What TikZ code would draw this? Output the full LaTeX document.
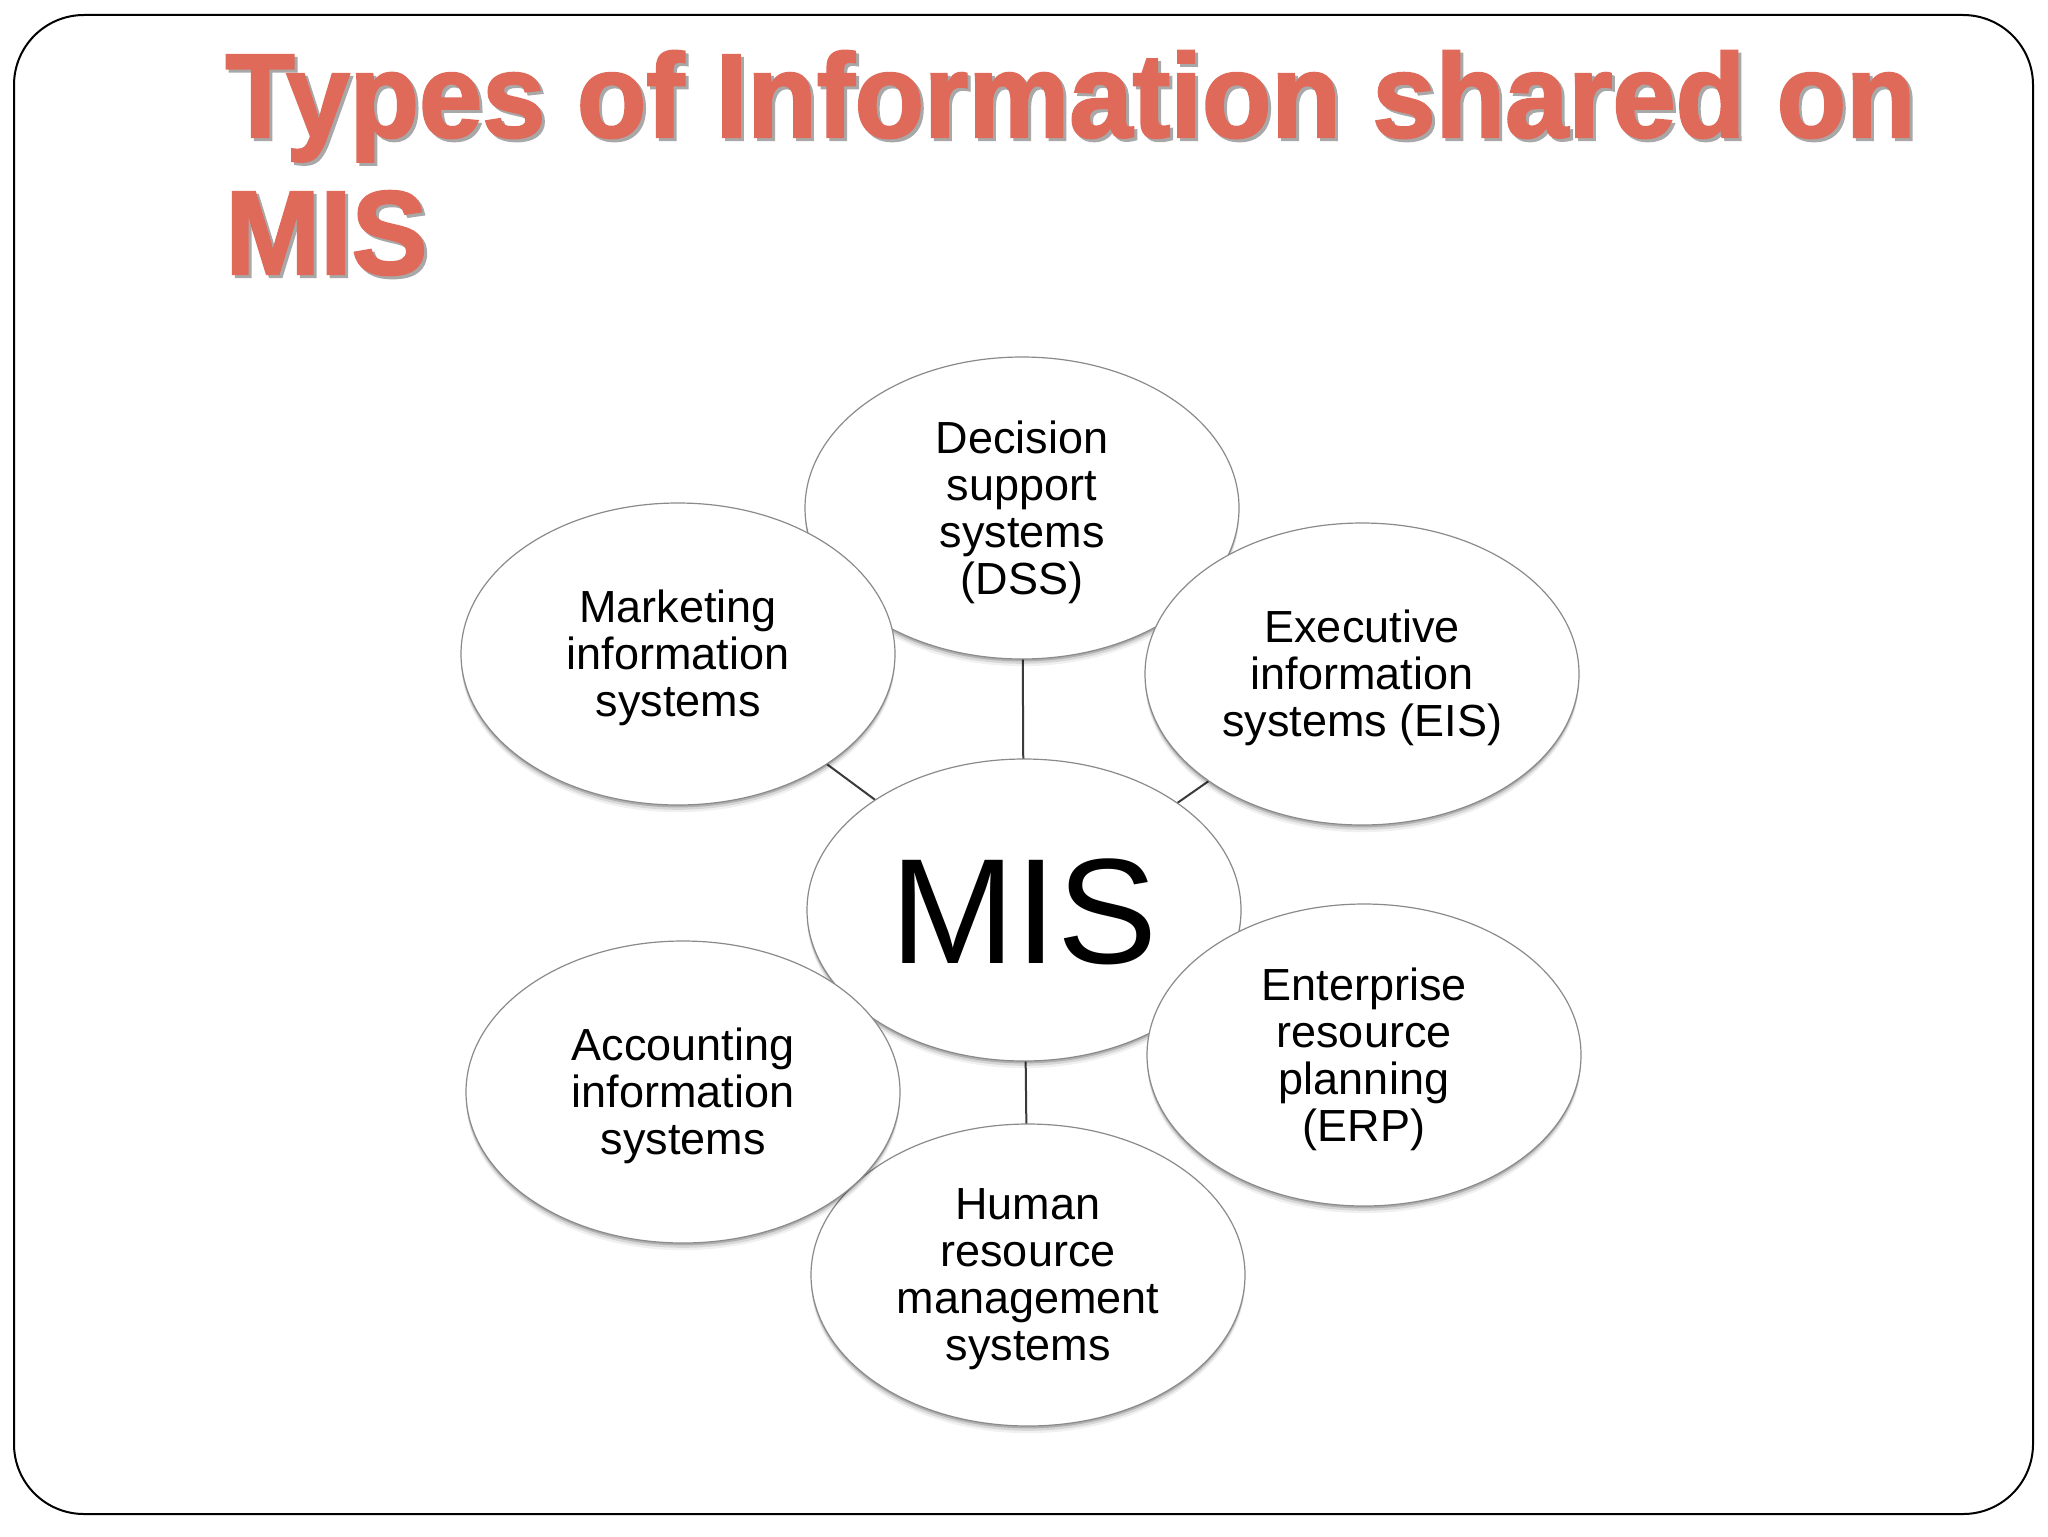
\documentclass[tikz,border=0pt]{standalone}
\usepackage{fontspec}
\setmainfont{Liberation Sans}
\newfontfamily\titlefont[FakeBold=2]{Liberation Sans}
\usetikzlibrary{shapes.geometric,shadows}
\definecolor{titlered}{HTML}{E06A5A}
\definecolor{titleshadow}{HTML}{A8A8A8}
\definecolor{bubedge}{gray}{0.92}
\definecolor{bubline}{HTML}{8A8A8A}
\definecolor{linkcol}{HTML}{3A3A3A}
\pgfdeclareradialshading{bubble}{\pgfpoint{0bp}{0bp}}{color(0bp)=(white); color(32bp)=(white); color(50bp)=(bubedge)}
\tikzset{
  bubblebox/.style={ellipse, inner sep=0pt, minimum width=217pt, minimum height=151pt,
    draw=bubline, line width=0.6pt, shading=bubble,
    drop shadow={shadow xshift=0pt, shadow yshift=-1.2pt, opacity=0.18, fill=black},
    drop shadow={shadow xshift=0pt, shadow yshift=-2.4pt, opacity=0.10, fill=black},
    drop shadow={shadow xshift=0pt, shadow yshift=-3.6pt, opacity=0.06, fill=black}},
  bubtext/.style={inner sep=0pt, align=center, font=\fontsize{22.5pt}{23.5pt}\selectfont},
  link/.style={draw=linkcol, line width=1pt},
  titletext/.style={anchor=base west, inner sep=0pt, font=\titlefont\bfseries\fontsize{59.5pt}{68.5pt}\selectfont}
}
\begin{document}
\begin{tikzpicture}[x=0.5pt, y=-0.5pt]
\useasboundingbox (0,0) rectangle (2048,1536);
\fill[white] (0,0) rectangle (2048,1536);
\draw[line width=1pt, rounded corners=35pt] (14,15) rectangle (2033,1514);

% title
\node[titletext, text=titleshadow] (t1s) at (228,140) {\scalebox{0.955}[1]{Types of Information shared on}};
\node[titletext, text=titleshadow] (t2s) at (228,277) {\scalebox{0.955}[1]{MIS}};
\node[titletext, text=titlered] (t1) at (225,137) {\scalebox{0.955}[1]{Types of Information shared on}};
\node[titletext, text=titlered] (t2) at (225,274) {\scalebox{0.955}[1]{MIS}};

% anchor coordinates
\coordinate (cdss) at (1022,508);
\coordinate (cmis) at (1024,910);
\coordinate (cmkt) at (678,654);
\coordinate (ceis) at (1362,674);
\coordinate (chrm) at (1028,1275);
\coordinate (cacc) at (683,1092);
\coordinate (cerp) at (1364,1055);

% connectors (behind)
\draw[link] (cdss) -- (cmis);
\draw[link] (cmkt) -- (cmis);
\draw[link] (ceis) -- (cmis);
\draw[link] (chrm) -- (cmis);

% ellipses with their texts
\node[bubblebox] (dss) at (cdss) {};
\node[bubtext] (dsst) at ([yshift=-2pt]dss.center) {Decision\\support\\systems\\(DSS)};
\node[bubblebox] (mis) at (cmis) {};
\node[inner sep=0pt, font=\fontsize{75pt}{80pt}\selectfont] (mist) at ([yshift=-1pt]mis.center) {MIS};
\node[bubblebox] (hrm) at (chrm) {};
\node[bubtext] (hrmt) at ([yshift=-2pt]hrm.center) {Human\\resource\\management\\systems};
\node[bubblebox] (mkt) at (cmkt) {};
\node[bubtext] (mktt) at ([yshift=-2pt]mkt.center) {Marketing\\information\\systems};
\node[bubblebox] (eis) at (ceis) {};
\node[bubtext] (eist) at ([yshift=-2pt]eis.center) {Executive\\information\\systems (EIS)};
\node[bubblebox] (acc) at (cacc) {};
\node[bubtext] (acct) at ([yshift=-2pt]acc.center) {Accounting\\information\\systems};
\node[bubblebox] (erp) at (cerp) {};
\node[bubtext] (erpt) at ([yshift=-2pt]erp.center) {Enterprise\\resource\\planning\\(ERP)};
\end{tikzpicture}
\end{document}
